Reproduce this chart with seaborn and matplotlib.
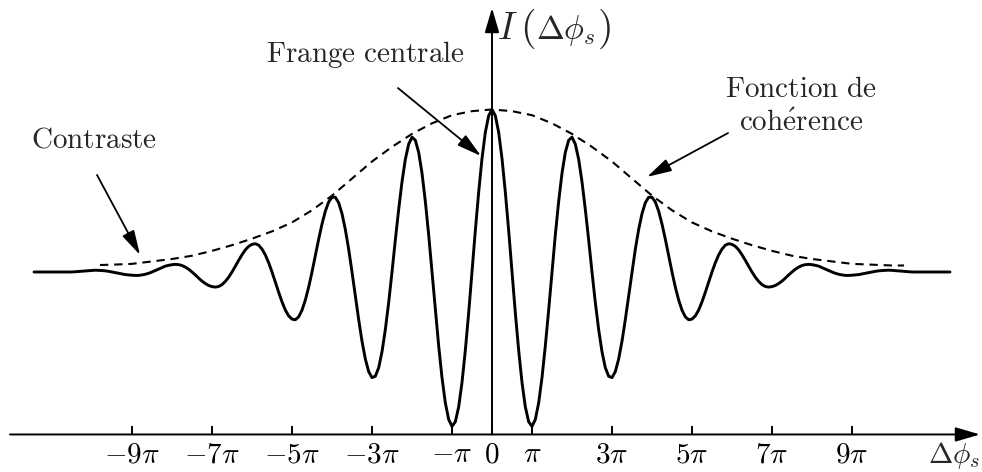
import matplotlib
matplotlib.use("Agg")
import matplotlib.pyplot as plt
import seaborn as sns

# Fringe intensity I(Δφ) for Δφ >= 0, phase in units of π, one sample every π/12
# (one row of twelve samples per unit of π); the pattern is symmetric about 0.
phase_half = [round(k + j / 12, 3) for k in range(10) for j in range(12)] + [10, 10.25, 10.5, 11.45]
intensity_half = [
    2.000, 1.962, 1.859, 1.698, 1.492, 1.254, 1.000, 0.749, 0.517, 0.320, 0.170, 0.078,
    0.050, 0.092, 0.195, 0.350, 0.545, 0.767, 1.000, 1.228, 1.435, 1.608, 1.736, 1.811,
    1.830, 1.787, 1.693, 1.555, 1.385, 1.196, 1.000, 0.812, 0.645, 0.509, 0.411, 0.358,
    0.350, 0.387, 0.465, 0.574, 0.707, 0.852, 1.000, 1.140, 1.262, 1.359, 1.426, 1.460,
    1.460, 1.431, 1.374, 1.295, 1.202, 1.101, 1.000, 0.907, 0.827, 0.765, 0.724, 0.706,
    0.710, 0.730, 0.766, 0.816, 0.875, 0.938, 1.000, 1.057, 1.105, 1.141, 1.165, 1.174,
    1.170, 1.158, 1.136, 1.106, 1.072, 1.035, 1.000, 0.968, 0.942, 0.922, 0.911, 0.907,
    0.910, 0.917, 0.929, 0.944, 0.962, 0.982, 1.000, 1.017, 1.030, 1.040, 1.045, 1.047,
    1.045, 1.041, 1.036, 1.027, 1.018, 1.009, 1.000, 0.992, 0.986, 0.982, 0.979, 0.979,
    0.980, 0.982, 0.984, 0.988, 0.992, 0.996, 1.000, 1.004, 1.007, 1.009, 1.010, 1.011,
    1.010, 1.005, 1.000, 1.000,
]

# Coherence envelope (dashed curve)
env_phase = [-9.8, -9.5, -9, -8.5, -8, -7.5, -7, -6.5, -6, -5.5, -5, -4.5,
             -4, -3.5, -3, -2.5, -2, -1.5, -1, -0.5, 0, 0.5, 1, 1.5, 2, 2.5,
             3, 3.5, 4, 4.5, 5, 5.5, 6, 6.5, 7, 7.5, 8, 8.5, 9, 9.5, 10, 10.3]
env_value = [1.043, 1.045, 1.05, 1.065, 1.08, 1.10, 1.13, 1.165, 1.205, 1.25,
             1.305, 1.38, 1.47, 1.575, 1.68, 1.77, 1.85, 1.915, 1.965, 1.99,
             2.00, 1.99, 1.965, 1.915, 1.85, 1.77, 1.68, 1.575, 1.47, 1.38,
             1.305, 1.25, 1.205, 1.165, 1.13, 1.10, 1.08, 1.065, 1.05, 1.045,
             1.04, 1.04]

# Tick positions (units of π) and their labels
tick_pos = [-9, -7, -5, -3, -1, 0, 1, 3, 5, 7, 9]
tick_labels = [r"$-9\pi$", r"$-7\pi$", r"$-5\pi$", r"$-3\pi$", r"$-\pi$", r"$0$",
               r"$\pi$", r"$3\pi$", r"$5\pi$", r"$7\pi$", r"$9\pi$"]

# Full symmetric curve
phase = [-p for p in reversed(phase_half[1:])] + phase_half
intensity = list(reversed(intensity_half[1:])) + intensity_half

sns.set_theme(style="white")
plt.rcParams["mathtext.fontset"] = "cm"
plt.rcParams["font.family"] = ["DejaVu Serif"]

fig = plt.figure(figsize=(9.82, 4.72), dpi=100)
ax = fig.add_axes([0, 0, 1, 1])
ax.set_xlim(-12.3, 12.25)
ax.set_ylim(-0.231, 2.674)

sns.lineplot(x=phase, y=intensity, ax=ax, color="black", lw=2.1,
             solid_joinstyle="round", sort=False)
sns.lineplot(x=env_phase, y=env_value, ax=ax, color="black", lw=1.5,
             linestyle="--", sort=False)
ax.lines[-1].set_dashes((4.0, 2.8))

# Axes drawn as arrows
for s in ax.spines.values():
    s.set_visible(False)
ax.spines["bottom"].set_position(("data", 0))
arrow_kw = dict(arrowstyle="-|>,head_length=0.75,head_width=0.22",
                color="black", lw=1.4, shrinkA=0, shrinkB=0, mutation_scale=20)
ax.annotate("", xy=(12.2, 0), xytext=(-12.05, 0), arrowprops=arrow_kw)
ax.annotate("", xy=(0, 2.625), xytext=(0, 0), arrowprops=arrow_kw)

ax.set_xticks(tick_pos)
ax.set_xticklabels(tick_labels)
ax.set_yticks([])
ax.tick_params(axis="x", direction="in", length=5.8, width=1.4, pad=4,
               labelsize=21, colors="black", bottom=True)
ax.set_xlabel("")
ax.set_ylabel("")

# Vertical axis title I(Δφ_s) with large parentheses
y_base = 2.434
ax.text(0.12, y_base, r"$I$", fontsize=27, ha="left", va="baseline")
ax.text(0.7, y_base, r"$($", fontsize=29, ha="left", va="baseline")
ax.text(1.1, y_base, r"$\Delta\phi_s$", fontsize=24, ha="left", va="baseline")
ax.text(2.62, y_base, r"$)$", fontsize=29, ha="left", va="baseline")

ax.text(11.55, -0.034, r"$\Delta\phi_s$", fontsize=21, ha="center", va="top")

# Annotations
note_kw = dict(arrowstyle="-|>,head_length=0.75,head_width=0.2",
               color="black", lw=1.3, shrinkA=0, shrinkB=0, mutation_scale=20)
ax.text(-3.175, 2.292, r"$\mathrm{Frange\ centrale}$", fontsize=21,
        ha="center", va="baseline")
ax.annotate("", xy=(-0.275, 1.714), xytext=(-2.35, 2.132), arrowprops=note_kw)

ax.text(-9.96, 1.769, r"$\mathrm{Contraste}$", fontsize=21,
        ha="center", va="baseline")
ax.annotate("", xy=(-8.8, 1.105), xytext=(-9.875, 1.597), arrowprops=note_kw)

ax.text(7.725, 2.077, r"$\mathrm{Fonction\ de}$", fontsize=21,
        ha="center", va="baseline")
ax.text(7.725, 1.867, r"$\mathrm{coh\acute{e}rence}$", fontsize=21,
        ha="center", va="baseline")
ax.annotate("", xy=(3.875, 1.585), xytext=(5.9, 1.855), arrowprops=note_kw)

fig.savefig("out.png", dpi=100)
